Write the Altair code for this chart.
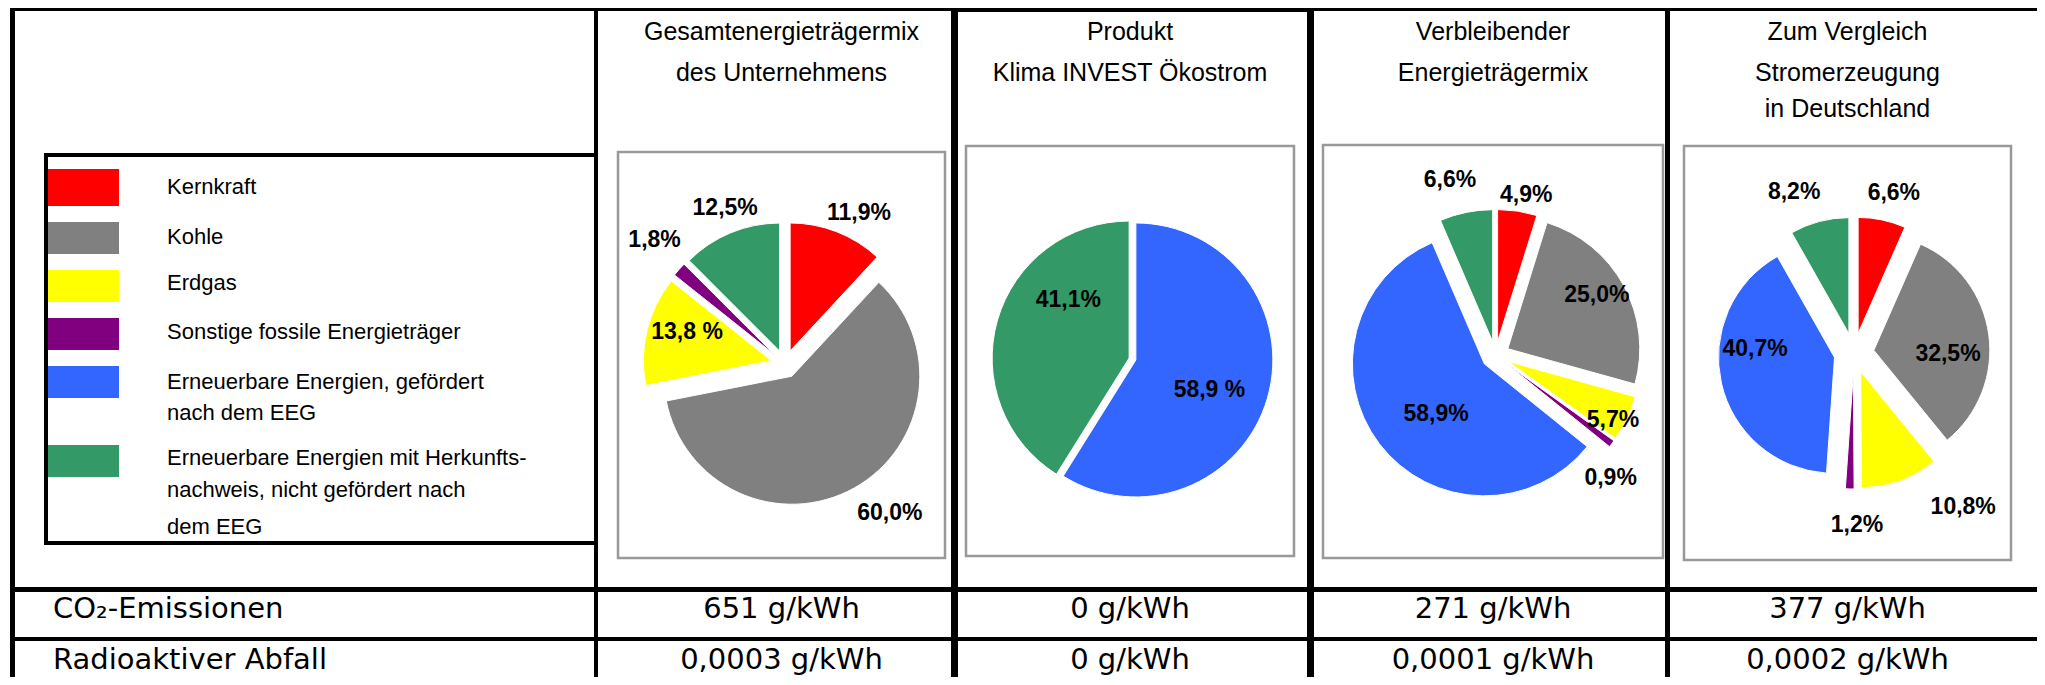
import altair as alt
import pandas as pd

# ---------------- data ----------------
CATEGORIES = [
    "Kernkraft",
    "Kohle",
    "Erdgas",
    "Sonstige fossile Energieträger",
    "Erneuerbare Energien, gefördert nach dem EEG",
    "Erneuerbare Energien mit Herkunftsnachweis, nicht gefördert nach dem EEG",
]
LEGEND_LINES = [
    ["Kernkraft"],
    ["Kohle"],
    ["Erdgas"],
    ["Sonstige fossile Energieträger"],
    ["Erneuerbare Energien, gefördert", "nach dem EEG"],
    ["Erneuerbare Energien mit Herkunfts-", "nachweis, nicht gefördert nach", "dem EEG"],
]
PIE_TITLES = [
    ["Gesamtenergieträgermix", "des Unternehmens"],
    ["Produkt", "Klima INVEST Ökostrom"],
    ["Verbleibender", "Energieträgermix"],
    ["Zum Vergleich", "Stromerzeugung", " in Deutschland"],
]
SHARES_GESAMT = [11.9, 60.0, 13.8, 1.8, 0.0, 12.5]
SHARES_PRODUKT = [0.0, 0.0, 0.0, 0.0, 58.9, 41.1]
SHARES_VERBLEIBEND = [4.9, 25.0, 5.7, 0.9, 58.9, 6.6]
SHARES_DEUTSCHLAND = [6.6, 32.5, 10.8, 1.2, 40.7, 8.2]
LABELS_GESAMT = ["11,9%", "60,0%", "13,8 %", "1,8%", "", "12,5%"]
LABELS_PRODUKT = ["", "", "", "", "58,9 %", "41,1%"]
LABELS_VERBLEIBEND = ["4,9%", "25,0%", "5,7%", "0,9%", "58,9%", "6,6%"]
LABELS_DEUTSCHLAND = ["6,6%", "32,5%", "10,8%", "1,2%", "40,7%", "8,2%"]
ROW_NAMES = ["CO₂-Emissionen", "Radioaktiver Abfall"]
CO2_VALUES = ["651 g/kWh", "0 g/kWh", "271 g/kWh", "377 g/kWh"]
WASTE_VALUES = ["0,0003 g/kWh", "0 g/kWh", "0,0001 g/kWh", "0,0002 g/kWh"]

SHARES = [SHARES_GESAMT, SHARES_PRODUKT, SHARES_VERBLEIBEND, SHARES_DEUTSCHLAND]
LABELS = [LABELS_GESAMT, LABELS_PRODUKT, LABELS_VERBLEIBEND, LABELS_DEUTSCHLAND]

# ---------------- styles ----------------
PIE_COLORS = ["#FF0000", "#808080", "#FFFF00", "#5F4B82", "#3366FF", "#339966"]
LEGEND_COLORS = ["#FF0000", "#808080", "#FFFF00", "#800080", "#3366FF", "#339966"]
FONT = "Liberation Sans"

# ---------------- layout (page pixel coordinates) ----------------
W, H, M = 2029, 669, 8
XS = alt.Scale(domain=[M, M + W], range=[0, W], nice=False, zero=False)
YS = alt.Scale(domain=[M, M + H], range=[0, H], nice=False, zero=False)

BOXES = [(618, 152, 945, 558), (966, 146, 1294, 556), (1323, 145, 1663, 558), (1684, 146, 2011, 560)]
BOX_CX = [(b[0] + b[2]) / 2 for b in BOXES]
HEADER_BASE = [40, 81, 117]
PIE_GEOM = [  # centre x, centre y, radius, explode distance
    (785, 364, 128, 14),
    (1132.5, 359, 137, 3.5),
    (1495.5, 355.4, 132, 14),
    (1854, 353, 116, 20),
]
LABEL_POS = [  # (distance from centre, angle shift from slice middle in degrees)
    [(168, 4.7), (182, -6.0), (103, 4.4), (180, 1.8), (0, 0), (167, 1.5)],
    [(0, 0), (0, 0), (0, 0), (0, 0), (83, 6.0), (87, 26.5)],
    [(163, 2.2), (118, -2.2), (134, 3.2), (168, 9.5), (83.5, -7.4), (181, -2.9)],
    [(165, 2.1), (94, 8.3), (189, -15.5), (172, -2.8), (99, 15.1), (172, -5.6)],
]
LINES = [  # x1, y1, x2, y2, width
    (10, 9, 2045, 9, 4),
    (951, 8.5, 1314, 8.5, 7),
    (12.5, 7, 12.5, 690, 5),
    (596, 7, 596, 690, 4),
    (954.5, 5, 954.5, 690, 7),
    (1310.5, 5, 1310.5, 690, 7),
    (1667.5, 7, 1667.5, 690, 5),
    (10, 589.5, 2045, 589.5, 5),
    (10, 639, 2045, 639, 4),
]
LEGEND_BOX = (46, 155, 596, 543)
SWATCH_X = (48, 119)
SWATCH_Y = [(169, 206), (222, 254), (270, 302), (318, 350), (366, 398), (445, 477)]
LEGEND_TEXT_X = 167
LEGEND_TEXT_Y = [[187], [237], [283], [332], [382, 413], [458, 490, 527]]
ROW_BASE = [618, 669]
ROW_NAME_X = 53


def X(f):
    return alt.X(f, type="quantitative", scale=XS, axis=None)


def Y(f):
    return alt.Y(f, type="quantitative", scale=YS, axis=None)


# ---------------- tables ----------------
pie_rows = []
for p in range(4):
    cx, cy, r, ex = PIE_GEOM[p]
    for k, cat in enumerate(CATEGORIES):
        v = SHARES[p][k]
        if v <= 0:
            continue
        lr, ld = LABEL_POS[p][k]
        pie_rows.append(dict(pie=p, order=k, cat=cat, value=v, label=LABELS[p][k],
                             pcx=cx, pcy=cy, r=r, ex=ex, lr=lr, ld=ld))
pie_df = pd.DataFrame(pie_rows)

lines_df = pd.DataFrame([dict(x1=a, y1=b, x2=c, y2=d, w=w) for a, b, c, d, w in LINES])
boxes_df = pd.DataFrame([dict(x1=a, y1=b, x2=c, y2=d) for a, b, c, d in BOXES])
legend_box_df = pd.DataFrame([dict(x1=LEGEND_BOX[0], y1=LEGEND_BOX[1], x2=LEGEND_BOX[2], y2=LEGEND_BOX[3])])
swatch_df = pd.DataFrame([dict(cat=c, x1=SWATCH_X[0], x2=SWATCH_X[1], y1=SWATCH_Y[i][0], y2=SWATCH_Y[i][1])
                          for i, c in enumerate(CATEGORIES)])
legend_text_df = pd.DataFrame([dict(t=t, x=LEGEND_TEXT_X, y=LEGEND_TEXT_Y[i][j])
                               for i, lines in enumerate(LEGEND_LINES) for j, t in enumerate(lines)])
header_df = pd.DataFrame([dict(t=t, x=BOX_CX[i], y=HEADER_BASE[j])
                          for i, lines in enumerate(PIE_TITLES) for j, t in enumerate(lines)])
row_name_df = pd.DataFrame([dict(t=t, x=ROW_NAME_X, y=ROW_BASE[i]) for i, t in enumerate(ROW_NAMES)])
row_val_df = pd.DataFrame([dict(t=t, x=BOX_CX[i], y=ROW_BASE[0]) for i, t in enumerate(CO2_VALUES)] +
                          [dict(t=t, x=BOX_CX[i], y=ROW_BASE[1]) for i, t in enumerate(WASTE_VALUES)])

# ---------------- layers ----------------
gray_boxes = alt.Chart(boxes_df).mark_rect(fill="white", stroke="#999999", strokeWidth=2.5).encode(
    x=X("x1"), x2="x2", y=Y("y1"), y2="y2")

pie_base = (
    alt.Chart(pie_df)
    .transform_window(cum="sum(value)", groupby=["pie"], sort=[alt.SortField("order", order="ascending")],
                      frame=[None, 0])
    .transform_joinaggregate(total="sum(value)", groupby=["pie"])
    .transform_calculate(t1="(datum.cum - datum.value) / datum.total * 2 * PI")
    .transform_calculate(t2="datum.cum / datum.total * 2 * PI")
    .transform_calculate(mid="(datum.t1 + datum.t2) / 2")
    .transform_calculate(sx="datum.pcx + datum.ex * sin(datum.mid)")
    .transform_calculate(sy="datum.pcy - datum.ex * cos(datum.mid)")
    .transform_calculate(la="datum.mid + datum.ld * PI / 180")
    .transform_calculate(lx="datum.pcx + datum.lr * sin(datum.la)")
    .transform_calculate(ly="datum.pcy - datum.lr * cos(datum.la)")
)

arcs = pie_base.mark_arc(stroke="white", strokeWidth=1).encode(
    x=X("sx"), y=Y("sy"),
    theta=alt.Theta("t1:Q", scale=None, stack=None),
    theta2=alt.Theta2("t2:Q"),
    radius=alt.Radius("r:Q", scale=None),
    color=alt.Color("cat:N", scale=alt.Scale(domain=CATEGORIES, range=PIE_COLORS), legend=None),
)

pie_labels = pie_base.transform_filter("datum.label != ''").mark_text(
    font=FONT, fontWeight="bold", fontSize=23, align="center", baseline="middle", color="black"
).encode(x=X("lx"), y=Y("ly"), text="label:N")

legend_box = alt.Chart(legend_box_df).mark_rect(fill="white", stroke="black", strokeWidth=4).encode(
    x=X("x1"), x2="x2", y=Y("y1"), y2="y2")

swatches = alt.Chart(swatch_df).mark_rect().encode(
    x=X("x1"), x2="x2", y=Y("y1"), y2="y2",
    color=alt.Color("cat:N", scale=alt.Scale(domain=CATEGORIES, range=LEGEND_COLORS), legend=None))

legend_text = alt.Chart(legend_text_df).mark_text(
    font=FONT, fontSize=22, align="left", baseline="middle", color="black").encode(
    x=X("x"), y=Y("y"), text="t:N")

headers = alt.Chart(header_df).mark_text(
    font=FONT, fontSize=25, align="center", baseline="alphabetic", color="black").encode(
    x=X("x"), y=Y("y"), text="t:N")

row_names = alt.Chart(row_name_df).mark_text(
    font="DejaVu Sans", fontSize=29, align="left", baseline="alphabetic", color="black").encode(
    x=X("x"), y=Y("y"), text="t:N")

row_vals = alt.Chart(row_val_df).mark_text(
    font="DejaVu Sans", fontSize=29, align="center", baseline="alphabetic", color="black").encode(
    x=X("x"), y=Y("y"), text="t:N")

grid = alt.Chart(lines_df).mark_rule(color="black").encode(
    x=X("x1"), x2="x2", y=Y("y1"), y2="y2", strokeWidth=alt.StrokeWidth("w:Q", scale=None))

chart = alt.layer(
    legend_box, swatches, legend_text, gray_boxes, arcs, pie_labels, headers, row_names, row_vals, grid
).properties(
    width=W, height=H, padding=0, background="white",
    autosize=alt.AutoSizeParams(type="none"),
).configure_view(stroke=None)

chart.save("out.html", embed_options={"renderer": "svg", "actions": False})
